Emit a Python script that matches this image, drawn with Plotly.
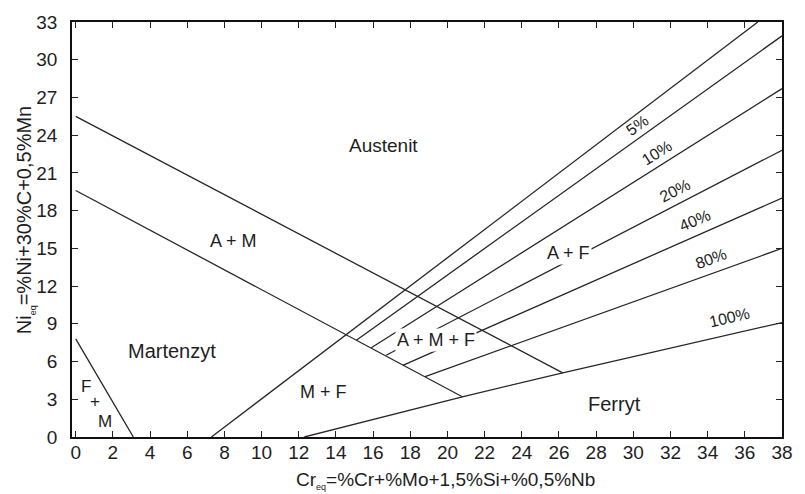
import plotly.graph_objects as go

# Axis ticks
cr_ticks = list(range(0, 39, 2))
ni_ticks = list(range(0, 34, 3))

# Phase boundaries (Cr_eq, Ni_eq)
am_upper_cr = [0, 26.2]
am_upper_ni = [25.5, 5.1]
am_lower_cr = [0, 20.8]
am_lower_ni = [19.6, 3.2]
fm_cr = [0, 3.1]
fm_ni = [7.8, 0]

# 0 % ferrite line (M / M+F and A / A+F boundary)
f0_cr = [7.3, 36.7]
f0_ni = [0, 33]

# 100 % ferrite line
f100_cr = [12.3, 20.8, 26.2, 38]
f100_ni = [0, 3.2, 5.1, 9.1]

# Iso-ferrite lines: start on the lower A+M boundary, end at Cr_eq = 38
ferrite_pct = ["5%", "10%", "20%", "40%", "80%"]
ferrite_start_cr = [15.1, 15.9, 16.7, 17.6, 18.8]
ferrite_start_ni = [7.7, 7.1, 6.5, 5.7, 4.8]
ferrite_end_cr = [38, 38, 38, 38, 38]
ferrite_end_ni = [31.9, 27.7, 22.8, 19.0, 15.0]

# Percentage labels along the ferrite lines
pct_labels = ["5%", "10%", "20%", "40%", "80%", "100%"]
pct_cr = [30.2, 31.3, 32.25, 33.3, 34.2, 35.2]
pct_ni = [24.75, 22.6, 19.6, 17.2, 14.2, 9.5]
pct_angle = [-35, -32, -27, -23, -20, -13]

# Phase field names
phase_names = ["Austenit", "Martenzyt", "A + M", "M + F", "Ferryt"]
phase_cr = [16.55, 5.2, 8.5, 13.35, 29.0]
phase_ni = [23.15, 6.8, 15.6, 3.55, 2.6]
phase_size = [19, 20, 18, 18, 20]

LINE = dict(color="#262626", width=1.3)
FONT = "Liberation Sans, Arial, sans-serif"
TXT = "#1e1e1e"

fig = go.Figure()

def add_line(xs, ys):
    fig.add_trace(go.Scatter(x=xs, y=ys, mode="lines", line=LINE,
                             hoverinfo="skip", showlegend=False))

add_line(am_upper_cr, am_upper_ni)
add_line(am_lower_cr, am_lower_ni)
add_line(fm_cr, fm_ni)
add_line(f0_cr, f0_ni)
add_line(f100_cr, f100_ni)
for i in range(len(ferrite_pct)):
    add_line([ferrite_start_cr[i], ferrite_end_cr[i]],
             [ferrite_start_ni[i], ferrite_end_ni[i]])

for t, x, y, a in zip(pct_labels, pct_cr, pct_ni, pct_angle):
    fig.add_annotation(x=x, y=y, text=t, textangle=a, showarrow=False,
                       font=dict(family=FONT, size=16, color=TXT))

for t, x, y, s in zip(phase_names, phase_cr, phase_ni, phase_size):
    fig.add_annotation(x=x, y=y, text=t, showarrow=False,
                       font=dict(family=FONT, size=s, color=TXT))

# Labels drawn over the ferrite lines with a white background
fig.add_annotation(x=19.38, y=7.7, text="A + M + F", showarrow=False,
                   bgcolor="white", borderpad=1,
                   font=dict(family=FONT, size=18, color=TXT))
fig.add_annotation(x=26.5, y=14.65, text="A + F", showarrow=False,
                   bgcolor="white", borderpad=1,
                   font=dict(family=FONT, size=18, color=TXT))

# Small F + M field in the corner
for t, x, y in zip(["F", "+", "M"], [0.55, 1.02, 1.55], [4.05, 2.8, 1.27]):
    fig.add_annotation(x=x, y=y, text=t, showarrow=False,
                       font=dict(family=FONT, size=17, color=TXT))

# Axis titles
fig.add_annotation(xref="paper", yref="paper", x=0.526, y=-0.106,
                   xanchor="center", yanchor="middle",
                   text="Cr<sub><span style='font-size:9px'>eq</span></sub>=%Cr+%Mo+1,5%Si+%0,5%Nb",
                   showarrow=False, font=dict(family=FONT, size=19, color=TXT))
fig.add_annotation(xref="paper", yref="paper", x=-0.065, y=0.522, textangle=-90,
                   xanchor="center", yanchor="middle",
                   text="Ni<sub><span style='font-size:9px'>eq</span></sub>=%Ni+30%C+0,5%Mn",
                   showarrow=False, font=dict(family=FONT, size=20, color=TXT))

axis_common = dict(showline=True, linecolor="#111", linewidth=1.5, mirror="ticks",
                   ticks="inside", ticklen=6, tickwidth=1.2, tickcolor="#222",
                   showgrid=False, zeroline=False,
                   tickfont=dict(family=FONT, size=19, color=TXT))

fig.update_xaxes(range=[-0.2, 38], tickvals=cr_ticks, ticklabelstandoff=-3, **axis_common)
fig.update_yaxes(range=[0, 33], tickvals=ni_ticks, ticklabelstandoff=9, **axis_common)

fig.update_layout(width=805, height=494, margin=dict(l=72, r=13, t=21, b=57),
                  paper_bgcolor="white", plot_bgcolor="white")

fig.write_html("out.html")
